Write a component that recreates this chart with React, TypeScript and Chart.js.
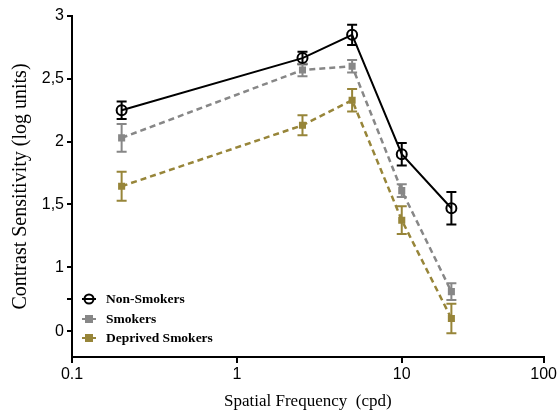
import React, { useEffect, useRef } from 'react';
import { Chart, registerables, LogarithmicScale, LinearScale } from 'chart.js';

// ---- data ----
const frequencies = [0.2, 2.5, 5, 10, 20];
const seriesNames = ['Non-Smokers', 'Smokers', 'Deprived Smokers'];
const nonSmokers = [2.25, 2.665, 2.85, 1.9, 1.47];
const nonSmokersErr = [0.07, 0.05, 0.08, 0.09, 0.13];
const smokers = [2.03, 2.57, 2.6, 1.61, 0.62];
const smokersErr = [0.11, 0.05, 0.05, 0.05, 0.13];
const deprived = [1.645, 2.13, 2.33, 1.375, 0.2];
const deprivedErr = [0.115, 0.08, 0.09, 0.11, 0.23];
const xTicks = [0.1, 1, 10, 100];
const yTicks = [0, 0.5, 1, 1.5, 2, 2.5, 3];

// ---- segmented axes (Prism-style two-segment axes) ----
// stops: [axis value (log10 for x), relative length]
const X_STOPS: [number, number][] = [[-1, 0], [Math.log10(20), 2.301 * 165], [2, 472]];
const Y_STOPS: [number, number][] = [[-0.4, 0], [1, 89.6], [3, 340.6]];

function fwd(v: number, stops: [number, number][]) {
  const total = stops[stops.length - 1][1];
  for (let i = 0; i < stops.length - 1; i++) {
    const [a, pa] = stops[i];
    const [b, pb] = stops[i + 1];
    if (v <= b || i === stops.length - 2) {
      return (pa + ((v - a) / (b - a)) * (pb - pa)) / total;
    }
  }
  return 0;
}
function inv(d: number, stops: [number, number][]) {
  const total = stops[stops.length - 1][1];
  const p = d * total;
  for (let i = 0; i < stops.length - 1; i++) {
    const [a, pa] = stops[i];
    const [b, pb] = stops[i + 1];
    if (p <= pb || i === stops.length - 2) {
      return a + ((p - pa) / (pb - pa)) * (b - a);
    }
  }
  return 0;
}

class SegmentedLogScale extends LogarithmicScale {
  static id = 'segmentedLog';
  static defaults = {};
  getPixelForValue(value: any) {
    if (value == null || isNaN(value) || value <= 0) return NaN;
    return this.getPixelForDecimal(fwd(Math.log10(value), X_STOPS));
  }
  getValueForPixel(pixel: number) {
    return Math.pow(10, inv(this.getDecimalForPixel(pixel), X_STOPS));
  }
}

class SegmentedLinearScale extends LinearScale {
  static id = 'segmentedLinear';
  static defaults = {};
  getPixelForValue(value: any) {
    if (value == null || isNaN(value)) return NaN;
    return this.getPixelForDecimal(fwd(value, Y_STOPS));
  }
  getValueForPixel(pixel: number) {
    return inv(this.getDecimalForPixel(pixel), Y_STOPS);
  }
}

Chart.register(...registerables, SegmentedLogScale, SegmentedLinearScale);

const BLACK = '#000000';
const GRAY = '#878787';
const OLIVE = '#978539';

const errorBarPlugin = {
  id: 'errorBars',
  beforeDatasetsDraw(chart: any) {
    const ctx = chart.ctx;
    const yScale = chart.scales.y;
    chart.data.datasets.forEach((ds: any, i: number) => {
      const meta = chart.getDatasetMeta(i);
      const errs: number[] = ds.errors || [];
      ctx.save();
      ctx.strokeStyle = ds.borderColor;
      ctx.lineWidth = 2;
      ctx.setLineDash([]);
      meta.data.forEach((pt: any, j: number) => {
        const v = ds.data[j].y;
        const e = errs[j] || 0;
        const yTop = yScale.getPixelForValue(v + e);
        const yBot = yScale.getPixelForValue(v - e);
        const x = pt.x;
        const cap = 5;
        ctx.beginPath();
        ctx.moveTo(x, yTop);
        ctx.lineTo(x, yBot);
        ctx.moveTo(x - cap, yTop);
        ctx.lineTo(x + cap, yTop);
        ctx.moveTo(x - cap, yBot);
        ctx.lineTo(x + cap, yBot);
        ctx.stroke();
      });
      ctx.restore();
    });
  },
};

const legendPlugin = {
  id: 'insideLegend',
  afterDraw(chart: any) {
    const ctx = chart.ctx;
    const { left, bottom } = chart.chartArea;
    const offsets = [58, 38, 19];
    chart.data.datasets.forEach((ds: any, i: number) => {
      const y = bottom - offsets[i];
      const cx = left + 17;
      ctx.save();
      ctx.strokeStyle = ds.borderColor;
      ctx.lineWidth = 2;
      ctx.setLineDash([]);
      ctx.beginPath();
      ctx.moveTo(cx - 7, y);
      ctx.lineTo(cx + 7, y);
      ctx.stroke();
      if (ds.pointStyle === 'circle') {
        ctx.beginPath();
        ctx.arc(cx, y, 4.5, 0, Math.PI * 2);
        ctx.stroke();
      } else {
        ctx.fillStyle = ds.borderColor;
        ctx.fillRect(cx - 4, y - 4, 8, 8);
      }
      ctx.fillStyle = '#000';
      ctx.font = 'bold 13.5px "Liberation Serif", "Times New Roman", serif';
      ctx.textBaseline = 'middle';
      ctx.textAlign = 'left';
      ctx.fillText(ds.label, left + 34, y + 1);
      ctx.restore();
    });
  },
};

function toPoints(ys: number[]) {
  return frequencies.map((x, i) => ({ x, y: ys[i] }));
}

export default function App() {
  const ref = useRef<HTMLCanvasElement | null>(null);

  useEffect(() => {
    document.body.style.margin = '0';
    const canvas = ref.current;
    if (!canvas) return;
    const chart = new Chart(canvas, {
      type: 'line',
      data: {
        datasets: [
          {
            label: seriesNames[0],
            data: toPoints(nonSmokers),
            errors: nonSmokersErr,
            borderColor: BLACK,
            backgroundColor: 'rgba(0,0,0,0)',
            borderWidth: 2,
            pointStyle: 'circle',
            pointRadius: 5,
            pointBorderWidth: 2,
            pointBackgroundColor: 'rgba(0,0,0,0)',
            pointBorderColor: BLACK,
            tension: 0,
          } as any,
          {
            label: seriesNames[1],
            data: toPoints(smokers),
            errors: smokersErr,
            borderColor: GRAY,
            backgroundColor: GRAY,
            borderWidth: 2.5,
            borderDash: [6, 4],
            pointStyle: 'rect',
            pointRadius: 5,
            pointBorderWidth: 0,
            pointBackgroundColor: GRAY,
            tension: 0,
          } as any,
          {
            label: seriesNames[2],
            data: toPoints(deprived),
            errors: deprivedErr,
            borderColor: OLIVE,
            backgroundColor: OLIVE,
            borderWidth: 2.5,
            borderDash: [6, 4],
            pointStyle: 'rect',
            pointRadius: 5,
            pointBorderWidth: 0,
            pointBackgroundColor: OLIVE,
            tension: 0,
          } as any,
        ],
      },
      options: {
        animation: false,
        responsive: false,
        events: [],
        layout: { padding: { top: 16, right: 15, bottom: 0, left: 0 } },
        plugins: {
          legend: { display: false },
          tooltip: { enabled: false },
        },
        scales: {
          x: {
            type: 'segmentedLog' as any,
            min: 0.1,
            max: 100,
            afterBuildTicks: (scale: any) => {
              scale.ticks = xTicks.map((v) => ({ value: v }));
            },
            afterFit: (scale: any) => {
              scale.height = 59;
            },
            ticks: {
              autoSkip: false,
              maxRotation: 0,
              color: '#000',
              padding: 2,
              font: { family: '"Liberation Sans", Arial, sans-serif', size: 16 },
              callback: (v: any) => String(v),
            },
            grid: {
              display: true,
              drawOnChartArea: false,
              drawTicks: true,
              tickLength: 6,
              color: '#000',
              lineWidth: 2,
            },
            border: { display: true, color: '#000', width: 2 },
            title: {
              display: true,
              text: 'Spatial Frequency  (cpd)',
              color: '#000',
              padding: { top: 4, bottom: 4 },
              font: { family: '"Liberation Serif", "Times New Roman", serif', size: 17, weight: 'normal' },
            },
          },
          y: {
            type: 'segmentedLinear' as any,
            min: -0.4,
            max: 3,
            afterBuildTicks: (scale: any) => {
              scale.ticks = yTicks.map((v) => ({ value: v }));
            },
            afterFit: (scale: any) => {
              scale.width = 72;
            },
            ticks: {
              autoSkip: false,
              color: '#000',
              padding: 3,
              font: { family: '"Liberation Sans", Arial, sans-serif', size: 16 },
              callback: (v: any) => (v === 0.5 ? '' : String(v).replace('.', ',')),
            },
            grid: {
              display: true,
              drawOnChartArea: false,
              drawTicks: true,
              tickLength: 5,
              color: '#000',
              lineWidth: 2,
            },
            border: { display: true, color: '#000', width: 2 },
            title: {
              display: true,
              text: 'Contrast Sensitivity (log units)',
              color: '#000',
              padding: { top: 9, bottom: 0 },
              font: { family: '"Liberation Serif", "Times New Roman", serif', size: 20, weight: 'normal' },
            },
          },
        },
      } as any,
      plugins: [errorBarPlugin, legendPlugin],
    });
    return () => chart.destroy();
  }, []);

  return (
    <div style={{ position: 'relative', width: 559, height: 416 }}>
      <canvas ref={ref} width={559} height={416} style={{ display: 'block' }} />
    </div>
  );
}
